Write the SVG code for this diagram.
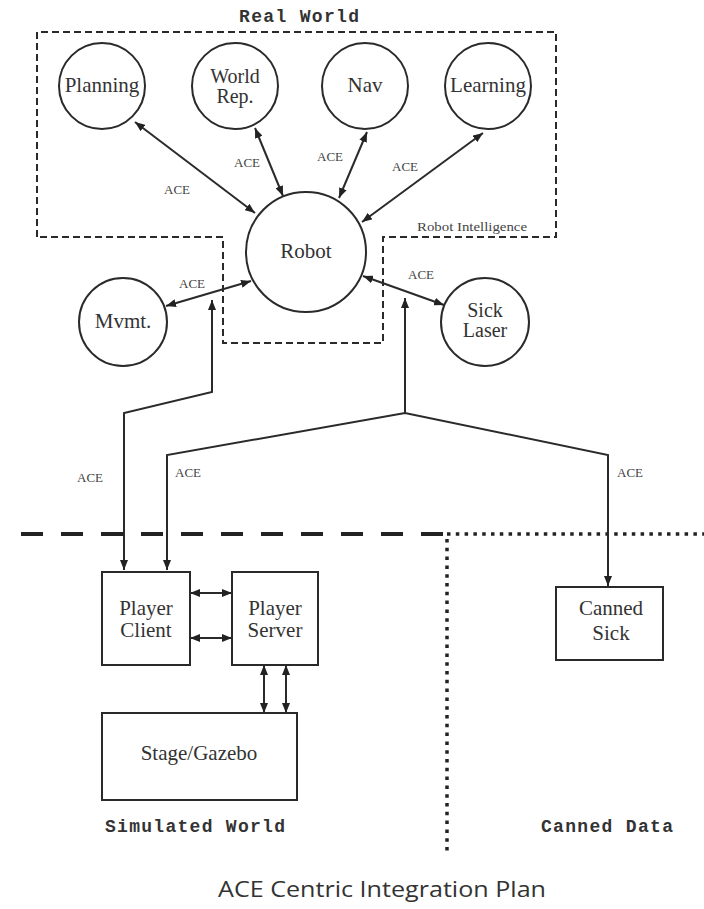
<svg xmlns="http://www.w3.org/2000/svg" width="704" height="909" viewBox="0 0 704 909">
  <style>
    .node { fill: #ffffff; stroke: #2a2a2a; stroke-width: 2; }
    .label { font-family: "Liberation Serif", "Times New Roman", serif; font-size: 21px; fill: #333; text-anchor: middle; }
    .label2 { font-family: "Liberation Serif", "Times New Roman", serif; font-size: 20px; fill: #333; text-anchor: middle; }
    .ace { font-family: "Liberation Serif", "Times New Roman", serif; font-size: 13px; fill: #444; text-anchor: middle; }
    .mono { font-family: "Liberation Mono", "Courier New", monospace; font-size: 18px; font-weight: bold; fill: #333; text-anchor: middle; }
    .link { fill: none; stroke: #2a2a2a; stroke-width: 2; }
    .region { fill: none; stroke: #2a2a2a; stroke-width: 2; stroke-dasharray: 7 4; }
  </style>
  <defs>
    <marker id="arrow" viewBox="0 0 10 8" refX="10" refY="4" markerWidth="10" markerHeight="8" markerUnits="userSpaceOnUse" orient="auto-start-reverse">
      <path d="M0,0 L10,4 L0,8 z" fill="#222"/>
    </marker>
  </defs>

  <rect width="704" height="909" fill="#ffffff"/>

  <!-- Real World region and boundaries -->
  <g id="regions">
    <text class="mono" x="299" y="22" textLength="120" lengthAdjust="spacing">Real World</text>
    <path class="region" d="M37,237 L37,32 L556,32 L556,237 L383,237 L383,343 L223,343 L223,237 Z"/>
    <text class="ace" x="472" y="231" font-size="11" textLength="110" lengthAdjust="spacingAndGlyphs">Robot Intelligence</text>
    <line x1="21" y1="534" x2="443" y2="534" stroke="#222" stroke-width="4" stroke-dasharray="22 18"/>
    <line x1="447" y1="534" x2="704" y2="534" stroke="#222" stroke-width="3.5" stroke-dasharray="3.5 5.3"/>
    <line x1="447" y1="539" x2="447" y2="852" stroke="#222" stroke-width="3.5" stroke-dasharray="3.5 5.3"/>
    <text class="mono" x="195" y="832" textLength="180" lengthAdjust="spacing">Simulated World</text>
    <text class="mono" x="607" y="832" textLength="132" lengthAdjust="spacing">Canned Data</text>
  </g>

  <!-- ACE connectors -->
  <g id="connectors">
    <line class="link" x1="135" y1="122" x2="255" y2="213" marker-start="url(#arrow)" marker-end="url(#arrow)"/>
    <line class="link" x1="255" y1="128" x2="283" y2="196" marker-start="url(#arrow)" marker-end="url(#arrow)"/>
    <line class="link" x1="367" y1="132" x2="339" y2="198" marker-start="url(#arrow)" marker-end="url(#arrow)"/>
    <line class="link" x1="483" y1="133" x2="362" y2="222" marker-start="url(#arrow)" marker-end="url(#arrow)"/>
    <line class="link" x1="166" y1="306" x2="251" y2="281" marker-start="url(#arrow)" marker-end="url(#arrow)"/>
    <line class="link" x1="363" y1="276" x2="444" y2="305" marker-start="url(#arrow)" marker-end="url(#arrow)"/>
    <polyline class="link" points="124,570 124,413 212,392 212,300" marker-start="url(#arrow)" marker-end="url(#arrow)"/>
    <polyline class="link" points="405,413 405,298" marker-end="url(#arrow)"/>
    <polyline class="link" points="167,570 167,455 405,413 608,455 608,586" marker-start="url(#arrow)" marker-end="url(#arrow)"/>
    <line class="link" x1="190" y1="593" x2="232" y2="593" marker-start="url(#arrow)" marker-end="url(#arrow)"/>
    <line class="link" x1="190" y1="638" x2="232" y2="638" marker-start="url(#arrow)" marker-end="url(#arrow)"/>
    <line class="link" x1="264" y1="665" x2="264" y2="713" marker-start="url(#arrow)" marker-end="url(#arrow)"/>
    <line class="link" x1="286" y1="665" x2="286" y2="713" marker-start="url(#arrow)" marker-end="url(#arrow)"/>
    <text class="ace" x="177" y="194">ACE</text>
    <text class="ace" x="247" y="167">ACE</text>
    <text class="ace" x="330" y="161">ACE</text>
    <text class="ace" x="405" y="171">ACE</text>
    <text class="ace" x="192" y="288">ACE</text>
    <text class="ace" x="421" y="279">ACE</text>
    <text class="ace" x="90" y="482">ACE</text>
    <text class="ace" x="188" y="477">ACE</text>
    <text class="ace" x="630" y="477">ACE</text>
  </g>

  <!-- Nodes -->
  <g id="planning">
    <circle class="node" cx="102" cy="86" r="43"/>
    <text class="label" x="102" y="92">Planning</text>
  </g>
  <g id="world-rep">
    <circle class="node" cx="235" cy="86" r="43"/>
    <text class="label2" x="235" y="83">World</text>
    <text class="label2" x="235" y="103">Rep.</text>
  </g>
  <g id="nav">
    <circle class="node" cx="365" cy="86" r="43"/>
    <text class="label" x="365" y="92">Nav</text>
  </g>
  <g id="learning">
    <circle class="node" cx="488" cy="86" r="43"/>
    <text class="label" x="488" y="92">Learning</text>
  </g>
  <g id="robot">
    <circle class="node" cx="306" cy="252" r="60"/>
    <text class="label" x="306" y="258">Robot</text>
  </g>
  <g id="mvmt">
    <circle class="node" cx="123" cy="322" r="44"/>
    <text class="label" x="123" y="328">Mvmt.</text>
  </g>
  <g id="sick-laser">
    <circle class="node" cx="485" cy="322" r="44"/>
    <text class="label2" x="485" y="317">Sick</text>
    <text class="label2" x="485" y="337">Laser</text>
  </g>
  <g id="player-client">
    <rect class="node" x="102" y="572" width="88" height="93"/>
    <text class="label" x="146" y="615">Player</text>
    <text class="label" x="146" y="637">Client</text>
  </g>
  <g id="player-server">
    <rect class="node" x="232" y="572" width="86" height="93"/>
    <text class="label" x="275" y="615">Player</text>
    <text class="label" x="275" y="637">Server</text>
  </g>
  <g id="stage-gazebo">
    <rect class="node" x="102" y="713" width="195" height="87"/>
    <text class="label" x="199" y="760">Stage/Gazebo</text>
  </g>
  <g id="canned-sick">
    <rect class="node" x="556" y="587" width="107" height="73"/>
    <text class="label" x="611" y="615">Canned</text>
    <text class="label" x="611" y="640">Sick</text>
  </g>

  <text x="382" y="897" font-family="'Open Sans', 'Noto Sans', sans-serif" font-size="22" fill="#333" text-anchor="middle" textLength="328" lengthAdjust="spacingAndGlyphs">ACE Centric Integration Plan</text>
</svg>
